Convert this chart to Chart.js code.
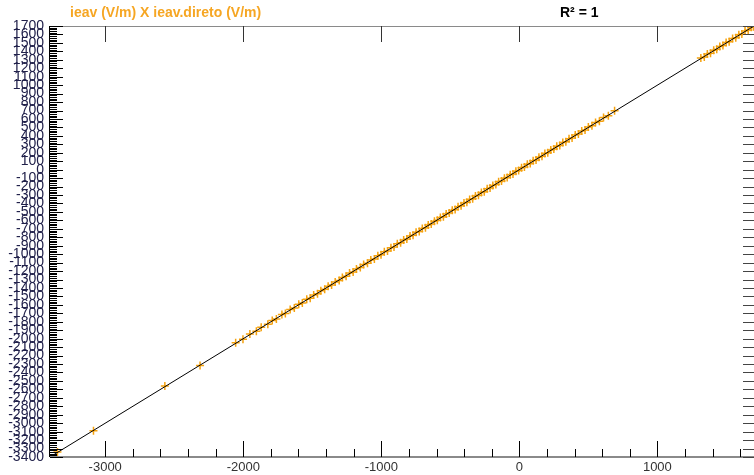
<!DOCTYPE html>
<html>
<head>
<meta charset="utf-8">
<script src="https://cdn.jsdelivr.net/npm/chart.js@4.4.0/dist/chart.umd.min.js"></script>
<style>
body { margin: 0; background: #fff; }
#wrap { position: relative; width: 754px; height: 475px; }
.ttl { position: absolute; top: 4px; font: bold 14px "Liberation Sans", Arial, sans-serif; white-space: nowrap; }
</style>
</head>
<body>
<div id="wrap">
  <canvas id="myChart" width="754" height="475"></canvas>
  <div class="ttl" style="left:70px;color:#f6a623">ieav (V/m) X ieav.direto (V/m)</div>
  <div class="ttl" style="left:560px;color:#000">R² = 1</div>
</div>
<script>
// ieav.direto (eixo x) e ieav (eixo y)
const xVals = [-3346, -3085, -2568, -2313, -2055, -2002, -1952, -1905, -1870, -1822, -1790, -1760, -1720, -1695,
  -1660, -1630, -1598, -1572, -1540, -1515, -1490, -1462, -1438, -1410, -1385, -1360, -1334, -1305, -1282,
  -1255, -1230, -1204, -1180, -1152, -1128, -1100, -1076, -1050, -1025, -1002, -978, -955, -930, -908, -884,
  -860, -838, -815, -792, -770, -748, -725, -703, -680, -660, -638, -615, -594, -572, -550, -530, -508, -486,
  -465, -444, -422, -401, -380, -360, -338, -318, -296, -275, -254, -233, -212, -192, -170, -150, -129, -108,
  -88, -66, -46, -25, -5, 16, 37, 58, 79, 100, 121, 142, 164, 185, 206, 228, 250, 271, 293, 315, 337, 360,
  382, 405, 428, 452, 476, 500, 526, 552, 580, 610, 645, 690,
  1315, 1340, 1362, 1385, 1408, 1430, 1452, 1475, 1498, 1520, 1545, 1568, 1590, 1612, 1635, 1658, 1680, 1696];
const yVals = [-3342, -3090, -2561, -2318, -2049, -2008, -1946, -1911, -1864, -1828, -1784, -1766, -1714, -1701,
  -1654, -1636, -1592, -1578, -1534, -1521, -1484, -1468, -1432, -1416, -1379, -1366, -1328, -1311, -1276,
  -1261, -1224, -1210, -1174, -1158, -1122, -1106, -1070, -1056, -1019, -1008, -972, -961, -924, -914, -878,
  -866, -832, -821, -786, -776, -742, -731, -697, -686, -654, -644, -609, -600, -566, -556, -524, -514, -480,
  -471, -438, -428, -395, -386, -354, -344, -312, -302, -269, -260, -227, -218, -186, -176, -144, -135, -102,
  -94, -60, -52, -19, -11, 22, 31, 64, 73, 106, 115, 148, 158, 191, 200, 234, 244, 277, 287, 321, 331, 366,
  376, 411, 422, 458, 470, 506, 520, 558, 574, 616, 639, 696,
  1321, 1334, 1368, 1379, 1414, 1424, 1458, 1469, 1504, 1514, 1551, 1562, 1596, 1606, 1641, 1652, 1686, 1692];
// reta de ajuste
const fitX = [-3400, 1700];
const fitY = [-3400, 1700];
// rótulos do eixo x
const xTickVals = [-3000, -2000, -1000, 0, 1000];

const points = xVals.map((v, i) => ({ x: v, y: yVals[i] }));
const fitLine = fitX.map((v, i) => ({ x: v, y: fitY[i] }));

// marcas dos eixos desenhadas por dentro da área do gráfico
const tickMarks = {
  id: 'tickMarks',
  afterDraw(chart) {
    const { ctx, chartArea: a, scales: { x, y } } = chart;
    ctx.save();
    ctx.lineWidth = 1;

    // bordas
    ctx.strokeStyle = '#8a8a8a';
    ctx.beginPath(); ctx.moveTo(a.left, a.top + 0.5); ctx.lineTo(a.right, a.top + 0.5); ctx.stroke();
    ctx.lineWidth = 2;
    ctx.beginPath(); ctx.moveTo(a.left, a.bottom); ctx.lineTo(a.right, a.bottom); ctx.stroke();
    ctx.lineWidth = 1;
    ctx.strokeStyle = '#000';
    ctx.beginPath(); ctx.moveTo(a.left - 0.5, a.top); ctx.lineTo(a.left - 0.5, a.bottom); ctx.stroke();

    // eixo x: baixo (maiores e menores) e topo (maiores)
    ctx.strokeStyle = '#000';
    for (let v = -3000; v <= 1700; v += 200) {
      const px = Math.round(x.getPixelForValue(v)) + 0.5;
      const len = v % 1000 === 0 ? 16 : 8;
      ctx.beginPath(); ctx.moveTo(px, a.bottom); ctx.lineTo(px, a.bottom - len); ctx.stroke();
      if (v % 1000 === 0) {
        ctx.strokeStyle = '#333';
        ctx.beginPath(); ctx.moveTo(px, a.top); ctx.lineTo(px, a.top + 16); ctx.stroke();
        ctx.strokeStyle = '#000';
      }
    }

    // eixo y esquerdo
    for (let v = -3400; v <= 1700; v += 20) {
      const py = Math.round(y.getPixelForValue(v)) + 0.5;
      const len = v % 100 === 0 ? 13 : 7;
      ctx.beginPath(); ctx.moveTo(a.left, py); ctx.lineTo(a.left + len, py); ctx.stroke();
    }
    // eixo y direito
    ctx.strokeStyle = '#444';
    for (let v = -3400; v <= 1700; v += 100) {
      const py = Math.round(y.getPixelForValue(v)) + 0.5;
      ctx.beginPath(); ctx.moveTo(a.right, py); ctx.lineTo(a.right - 11, py); ctx.stroke();
    }
    ctx.restore();
  }
};

const ctx = document.getElementById('myChart').getContext('2d');
const chart = new Chart(ctx, {
  type: 'scatter',
  data: {
    datasets: [
      {
        label: 'ajuste',
        data: fitLine,
        showLine: true,
        borderColor: '#000',
        borderWidth: 1,
        pointRadius: 0,
      },
      {
        label: 'ieav',
        data: points,
        pointStyle: 'cross',
        pointRadius: 4,
        borderColor: '#f5a20f',
        borderWidth: 1.5,
        backgroundColor: '#f5a20f',
      },
    ],
  },
  plugins: [tickMarks],
  options: {
    responsive: false,
    animation: false,
    devicePixelRatio: 1,
    layout: { autoPadding: false, padding: { top: 26, right: 0, left: 0, bottom: 0 } },
    plugins: {
      legend: { display: false },
      tooltip: { enabled: false },
    },
    scales: {
      x: {
        type: 'linear',
        min: -3400,
        max: 1700,
        grid: { display: false, drawTicks: false },
        border: { display: false },
        afterBuildTicks: (scale) => { scale.ticks = xTickVals.map(v => ({ value: v })); },
        afterFit: (scale) => { scale.height = 18; },
        ticks: {
          padding: 3,
          maxRotation: 0,
          autoSkip: false,
          color: '#333',
          font: { family: '"Liberation Sans", Arial, sans-serif', size: 13 },
          callback: (value) => String(value),
        },
      },
      y: {
        type: 'linear',
        min: -3400,
        max: 1700,
        grid: { display: false, drawTicks: false },
        border: { display: false },
        afterFit: (scale) => { scale.width = 50; },
        ticks: {
          stepSize: 100,
          autoSkip: false,
          maxTicksLimit: 1000,
          padding: 6,
          color: '#20204a',
          font: { family: '"Liberation Sans", Arial, sans-serif', size: 14 },
          callback: (value) => String(value),
        },
      },
    },
  },
});
</script>
</body>
</html>
